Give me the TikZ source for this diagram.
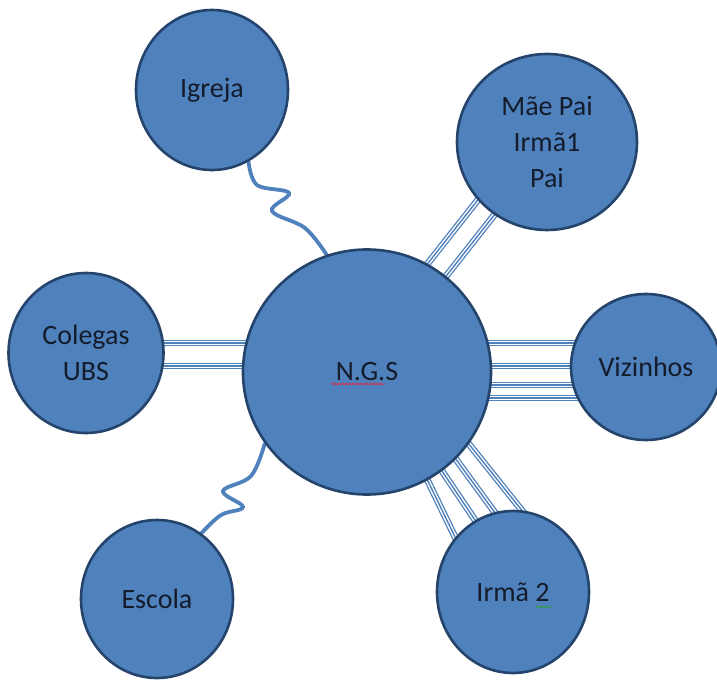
\documentclass[tikz,border=0pt]{standalone}
\usepackage{fontspec}
\setmainfont{Carlito}
\usetikzlibrary{shapes.geometric,decorations.pathmorphing,backgrounds}
\definecolor{fillblue}{HTML}{4F81BD}
\definecolor{edgeblue}{HTML}{25446C}
\definecolor{txt}{HTML}{141C2B}
\definecolor{spellred}{HTML}{D03050}
\definecolor{spellgreen}{HTML}{30A040}
\begin{document}
\begin{tikzpicture}[x=1pt,y=1pt,
  bubble/.style={ellipse, draw=edgeblue, line width=2.6pt, fill=fillblue, inner sep=0pt,
    text=txt, font=\fontsize{28}{36}\selectfont, align=center},
  tri/.style={draw=fillblue, line width=6.8pt,
    postaction={draw=white, line width=4.2pt},
    postaction={draw=fillblue, line width=1.4pt}},
  wave/.style={draw=fillblue, line width=3.8pt, line cap=round},
  squig/.style={decorate, decoration={snake, amplitude=1pt, segment length=3.5pt}, line width=0.8pt}]
\useasboundingbox (0,0) rectangle (717,681);
\clip (0,0) rectangle (717,681);

\node[bubble, minimum width=152pt, minimum height=160pt] (igreja) at (212,591) {Igreja};
\node[bubble, minimum width=180pt, minimum height=176pt] (mae) at (547,539) {Mãe Pai\\Irmã1\\Pai};
\node[bubble, minimum width=155pt, minimum height=160pt] (colegas) at (86,328) {Colegas\\UBS};
\node[bubble, minimum width=248pt, minimum height=245pt] (ngs) at (367,309) {N.G.S};
\node[bubble, minimum width=150pt, minimum height=146pt] (viz) at (646,314) {Vizinhos};
\node[bubble, minimum width=152pt, minimum height=158pt] (escola) at (157,82) {Escola};
\node[bubble, minimum width=152pt, minimum height=162pt] (irma) at (513,89) {Irmã 2};

\begin{pgfonlayer}{background}
  \fill[white] (0,0) rectangle (717,681);
  % Colegas -- N.G.S
  \draw[tri] ([yshift=10pt]colegas.center) -- ([yshift=29pt]ngs.center);
  \draw[tri] ([yshift=-13pt]colegas.center) -- ([yshift=6pt]ngs.center);
  % N.G.S -- Vizinhos
  \draw[tri] ([yshift=29pt]ngs.center) -- ([yshift=24pt]viz.center);
  \draw[tri] ([yshift=6pt]ngs.center) -- ([yshift=1pt]viz.center);
  \draw[tri] ([yshift=-13pt]ngs.center) -- ([yshift=-18pt]viz.center);
  \draw[tri] ([yshift=-26pt]ngs.center) -- ([yshift=-31pt]viz.center);
  % N.G.S -- Mae Pai
  \draw[tri] ([shift={(21,58)}]ngs.center) -- ([shift={(-48,-31)}]mae.center);
  \draw[tri] ([shift={(43,50)}]ngs.center) -- ([shift={(-26,-39)}]mae.center);
  % N.G.S -- Irma 2
  \draw[tri] ([shift={(53.6,-94)}]ngs.center) -- ([shift={(-53.6,46)}]irma.center);
  \draw[tri] ([shift={(67.4,-87.7)}]ngs.center) -- ([shift={(-32.4,63.7)}]irma.center);
  \draw[tri] ([shift={(82.1,-77.9)}]ngs.center) -- ([shift={(-14.1,73.9)}]irma.center);
  \draw[tri] ([shift={(94.8,-63.2)}]ngs.center) -- ([shift={(13.2,76.2)}]irma.center);
  % Igreja -- N.G.S (wavy)
  \coordinate (iw1) at (257,496);
  \coordinate (iw2) at (289,488);
  \coordinate (iw3) at (272,470);
  \coordinate (iw4) at (305,453);
  \draw[wave] plot[smooth, tension=0.6] coordinates {(igreja.-63) (iw1) (iw2) (iw3) (iw4) (ngs.109)};
  % N.G.S -- Escola (wavy)
  \coordinate (ew1) at (251,205);
  \coordinate (ew2) at (223,190);
  \coordinate (ew3) at (243,174);
  \coordinate (ew4) at (221,166);
  \draw[wave] plot[smooth, tension=0.6] coordinates {(ngs.215) (ew1) (ew2) (ew3) (ew4) (escola.56)};
\end{pgfonlayer}

% spell-check underlines
\draw[squig, spellred] (331,297) -- (385,297);
\draw[squig, spellgreen] (536,74) -- (552,74);
\end{tikzpicture}
\end{document}
